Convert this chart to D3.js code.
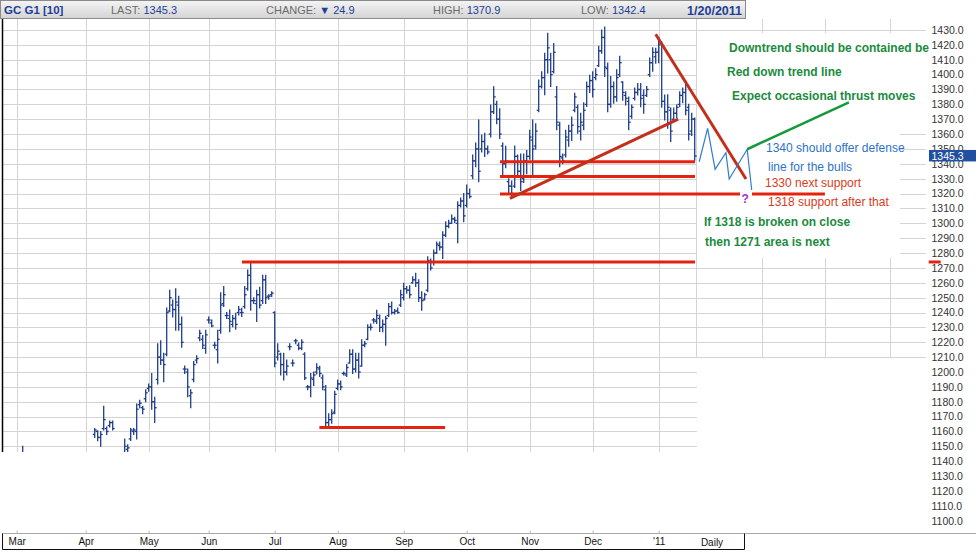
<!DOCTYPE html>
<html>
<head>
<meta charset="utf-8">
<script src="https://cdn.jsdelivr.net/npm/d3@7"></script>
<style>
body { margin: 0; background: #fff; }
svg { display: block; font-family: "Liberation Sans", Arial, sans-serif; }
</style>
</head>
<body>
<svg id="chart" width="976" height="552"></svg>
<script>
// daily bars, index 0 = Mar 1 2010 ... 226 = Jan 20 2011 (GC G1)
const opens = [1112,1118,1136,1140,1132,1134,1124,1122,1114,1120,1125,1124,1126,1118,1104,1098,1104,1106,1092,1102,1108,1112,1114,
	1116,1125,1132,1158,1160,1156,1162,1162,1164,1166,1144,1135,1138,1142,1148,1155,1160,1160,1178,1176,1182,
	1189,1190,1180,1195,1210,1208,1212,1241,1245,1242,1245,1232,1202,1200,1184,1195,1208,1223,1222,1216,
	1235,1233,1218,1215,1228,1246,1238,1236,1232,1236,1240,1240,1244,1256,1265,1248,1246,1252,1248,1262,1251,1252,
	1240,1210,1212,1205,1200,1217,1206,1221,1218,1216,1212,1190,1190,1195,1200,1202,1196,1188,1166,1168,1173,
	1189,1192,1199,1198,1206,1212,1202,1208,1204,1218,1222,1230,1235,1234,1236,1230,1232,1238,1244,1240,1241,1245,
	1250,1256,1255,1260,1262,1260,1250,1249,1255,1274,1274,1280,1285,1284,1292,1298,1300,1303,1300,1312,1315,
	1312,1320,1332,1342,1350,1350,1355,1350,1360,1375,1380,1370,1352,1340,1328,1325,1325,1345,1335,1330,1342,
	1345,1356,1352,1376,1392,1398,1410,1410,1402,1385,1366,1344,1346,1356,1362,1376,1378,1362,1366,1380,1392,
	1396,1398,1406,1416,1425,1404,1380,1392,1385,1400,1395,1386,1382,1372,1384,1388,1390,1386,1386,1400,1408,1412,
	1415,1421,1382,1375,1376,1370,1374,1380,1386,1388,1378,1362,1370];
const highs = [1120,1138,1150,1142,1138,1136,1128,1126,1124,1128,1132,1130,1128,1120,1110,1108,1112,1106,1104,1110,1116,1120,1122,
	1128,1136,1145,1162,1160.5,1160,1177,1163,1167,1167,1145,1142,1144,1155,1151,1162,1162,1178.5,1181,1177,1188,
	1192,1199,1183,1219,1221,1212.6,1243,1255,1248.5,1256,1251,1237,1204,1202,1188,1207,1211,1228,1224.6,1228,
	1237,1235,1220,1228,1253.3,1257.5,1240,1241.7,1238,1239.5,1244,1242.8,1257.5,1268.6,1273.1,1250,1255,1257,1265,1265,1252,1254,
	1240.6,1219,1212.6,1212.6,1208,1219,1208,1222,1219.5,1221.7,1213,1191,1199,1200,1205.6,1203.8,1198,1191,1172,1174.6,1187,
	1194.6,1194,1200,1205,1215,1215,1212.6,1212.6,1221.7,1220.5,1231.7,1232.3,1236,1241.6,1238.4,1235,1237.3,1246,1247,1242,1243,1255,
	1259.7,1257.5,1258,1264,1266.4,1262,1254,1253,1277.5,1276,1282,1287.5,1287.5,1294.4,1301,1302,1305.6,1304,1314.5,1317,1320,
	1325.8,1323,1346,1354,1369.5,1359.4,1360.5,1352,1379.6,1391.9,1382,1377,1354,1351.8,1330,1328.5,1352,1346,1346.6,1346.6,1349,
	1362.6,1369.5,1367,1396.4,1402,1414.3,1427.8,1414.3,1421,1392,1368,1346.6,1362.6,1366,1371.5,1387.5,1379.6,1374,1381,1395,1399.5,
	1402,1404,1419,1430,1432,1407.8,1398.8,1395,1403.3,1412.3,1395.2,1388.5,1385,1379.6,1391,1394,1394,1389.7,1392,1411.2,1418,1417.7,
	1425,1422,1386.3,1386.5,1377.6,1377.6,1379.6,1388.5,1391,1395.5,1380,1374,1370.9];
const lows = [1105,1115,1132,1128,1125,1120,1115,1110,1108,1116,1118,1115,1112,1100,1092,1090,1098,1085,1088,1096,1100,1105,1108,
	1112,1120,1128,1156,1153.8,1150,1161,1158,1163,1161,1130,1128,1132,1138,1142,1154,1158,1155,1176,1172,1180,
	1187,1175,1166,1192,1205,1193.5,1211,1240.6,1237,1228,1228,1216.6,1199,1183.4,1176,1193.5,1206,1221,1215.8,1212.6,
	1233,1230.5,1216,1206,1226,1244,1236,1227,1230.5,1228.7,1238.4,1237.3,1242.8,1255,1241.6,1246,1234,1243,1246,1246,1249,1250.8,
	1203.5,1208,1198,1194.6,1198,1215,1204,1219,1215,1215,1195,1188,1183.4,1191,1198.7,1197,1188,1163,1164,1165.6,1172,
	1188,1188,1198,1197,1206,1199,1200,1196,1203.8,1217,1221.7,1228.3,1233,1232.7,1227.2,1227,1218,1237.3,1239,1239,1239.5,1244,
	1248.5,1253,1250,1259.7,1257.5,1247.4,1241.6,1248.5,1254,1268.6,1272,1279.7,1282,1276.4,1291,1297,1300,1300.5,1287,1311,1301,
	1311,1317,1330,1338,1328,1348,1345,1346.6,1358,1373.9,1367,1357,1331.6,1337.3,1319.3,1317.3,1324,1331.6,1322,1327.5,1333.4,
	1343,1331.6,1350,1375,1391,1386.5,1401,1392,1401,1363,1338,1340,1344.6,1351.8,1355.7,1375,1360.5,1356,1363,1378.5,1388,
	1385,1396.6,1405.5,1414.3,1398.8,1375,1378,1380.7,1382,1398.8,1382.8,1379.6,1363,1370.6,1383,1386.3,1378.4,1374,1385.2,1398.8,1402.2,1407.6,
	1408,1378,1369.5,1364,1355,1369.5,1371,1378.4,1381,1373,1356,1359,1342.4];
const closes = [1118,1136,1140,1132,1134,1124,1122,1114,1120,1125,1124,1126,1118,1104,1098,1104,1106,1092,1102,1108,1112,1114,1116,
	1125,1132,1142,1161,1156,1158,1168,1160,1166,1162,1135,1138,1142,1150,1149,1161,1161,1175,1179,1175,1186,
	1190,1180,1176,1210,1208,1205,1240,1250,1242,1247,1232,1220,1202,1190,1186,1205,1209,1226,1218,1225,
	1235,1231,1218,1222,1245,1252,1238,1234,1236,1232,1242,1240,1252,1265,1248,1248,1252,1245,1262,1250,1251,1253,
	1206,1214,1205,1200,1204,1217,1206,1221,1216,1220,1196,1190,1196,1198,1203,1199,1190,1166,1168,1172,1185,
	1192,1190,1199,1203,1212,1202,1208,1200,1218,1219,1230,1230,1235,1238,1230,1232,1236,1244,1240,1241,1240,1252,
	1256,1255,1252,1262,1260,1250,1248,1252,1275,1270,1280,1286,1284,1292,1298,1300,1303,1302,1312,1315,1305,
	1320,1318,1342,1350,1335,1355,1350,1348,1375,1385,1370,1360,1340,1342,1325,1320,1345,1335,1328,1342,1345,
	1358,1350,1362,1392,1398,1410,1418,1400,1415,1368,1345,1342,1358,1362,1366,1385,1365,1368,1376,1392,1396,
	1390,1400,1416,1425,1405,1380,1392,1385,1398,1408,1388,1384,1368,1378,1388,1390,1384,1380,1390,1408,1415,1415,
	1420,1382,1375,1378,1362,1374,1378,1386,1388,1376,1360,1370.2,1345.3];

const monthLabels = ["Mar", "Apr", "May", "Jun", "Jul", "Aug", "Sep", "Oct", "Nov", "Dec", "'11"];
const monthStarts = [0, 23, 44, 64, 86, 107, 129, 150, 171, 192, 214];
const priceTicks = d3.range(1100, 1431, 10);
const gridLevels = d3.range(1150, 1431, 10);

// drawn studies: [index, price] pairs
const supportLevels = [1341.4, 1331.4];
const supportSpan = [161.1, 226.1];
const support1318 = [[161.1, 1319.7], [241.1, 1319.7]];
const support1318b = [[245.1, 1319.7], [269.4, 1319.7]];
const resistance1274 = [[75.1, 1274], [226.1, 1274]];
const support1162 = [[100.9, 1162.6], [142.8, 1162.6]];
const axisMark1274 = [[304, 1274], [308, 1274]];
const risingLine = [[164.4, 1316.8], [220.5, 1370.1]];
const downLine = [[213, 1427.1], [243.1, 1329.8]];
const zigzag = [[227.5, 1341.4], [230.3, 1363.9], [232.8, 1336.3], [236.4, 1347.5], [237.5, 1329.8], [243.5, 1349.8], [245, 1322.4]];
const thrustLine = [[243.5, 1349.8], [277.4, 1381.4]];
const questionMark = [242.8, 1316.8];
const lastPrice = 1345.3;

const svg = d3.select("#chart");
const x = d3.scaleLinear().domain([0, 226]).range([16.7, 694.7]);
const y = d3.scaleLinear().domain([1100, 1430]).range([520.7, 30]);
const line = d3.line().x(d => x(d[0])).y(d => y(d[1]));

const defs = svg.append("defs");
const grad = defs.append("linearGradient").attr("id", "hdr")
	.attr("x1", 0).attr("y1", 0).attr("x2", 0).attr("y2", 1);
grad.append("stop").attr("offset", "0%").attr("stop-color", "#f4f4f4");
grad.append("stop").attr("offset", "100%").attr("stop-color", "#d4d4d4");
defs.append("clipPath").attr("id", "plotClip").append("rect")
	.attr("x", 2).attr("y", 19).attr("width", 695).attr("height", 433);

//grid
const grid = svg.append("g").attr("stroke", "#d4d4d4").attr("stroke-width", 1).attr("shape-rendering", "crispEdges");
grid.selectAll(".h").data(gridLevels).enter().append("line")
	.attr("x1", 2).attr("x2", 926)
	.attr("y1", d => Math.round(y(d)) + 0.5).attr("y2", d => Math.round(y(d)) + 0.5);
grid.selectAll(".v").data(monthStarts).enter().append("line")
	.attr("x1", d => Math.round(x(d)) + 0.5).attr("x2", d => Math.round(x(d)) + 0.5)
	.attr("y1", 19).attr("y2", 452);
grid.selectAll(".vr").data([696, 762, 825, 890]).enter().append("line")
	.attr("x1", d => d + 0.5).attr("x2", d => d + 0.5)
	.attr("y1", 19).attr("y2", 358);

//white patches over the grid
const patches = [[697, 33, 229, 93], [697, 126, 203, 132], [697, 358, 229, 176], [0, 453, 697, 81]];
svg.append("g").selectAll("rect").data(patches).enter().append("rect")
	.attr("x", d => d[0]).attr("y", d => d[1]).attr("width", d => d[2]).attr("height", d => d[3])
	.attr("fill", "#fff");

svg.append("line").attr("x1", 2.5).attr("x2", 2.5).attr("y1", 19).attr("y2", 452)
	.attr("stroke", "#000").attr("stroke-width", 1.5);

//bars
const bars = svg.append("g").attr("clip-path", "url(#plotClip)")
	.attr("stroke", "#1f3d8c").attr("stroke-width", 1.3);
const idx = d3.range(highs.length);
bars.selectAll(".hl").data(idx).enter().append("line")
	.attr("x1", i => x(i)).attr("x2", i => x(i))
	.attr("y1", i => y(highs[i]) - 0.5).attr("y2", i => y(lows[i]) + 0.5);
bars.selectAll(".op").data(idx).enter().append("line")
	.attr("x1", i => x(i) - 2).attr("x2", i => x(i))
	.attr("y1", i => y(opens[i])).attr("y2", i => y(opens[i]));
bars.selectAll(".cl").data(idx).enter().append("line")
	.attr("x1", i => x(i)).attr("x2", i => x(i) + 2)
	.attr("y1", i => y(closes[i])).attr("y2", i => y(closes[i]));

//studies
const red = "#e4220e", darkRed = "#c2301c";
const hLines = supportLevels.map(p => supportSpan.map(i => [i, p]))
	.concat([support1318, support1318b, resistance1274, support1162, axisMark1274]);
svg.append("g").selectAll("path").data(hLines).enter().append("path")
	.attr("d", line).attr("fill", "none").attr("stroke", red).attr("stroke-width", 3);
svg.append("g").selectAll("path").data([risingLine, downLine]).enter().append("path")
	.attr("d", line).attr("fill", "none").attr("stroke", darkRed).attr("stroke-width", 3);
svg.append("path").datum(zigzag).attr("d", line)
	.attr("fill", "none").attr("stroke", "#2f7cd2").attr("stroke-width", 1.2);
svg.append("path").datum(thrustLine).attr("d", line)
	.attr("fill", "none").attr("stroke", "#16993b").attr("stroke-width", 2.5);
svg.append("text").attr("x", x(questionMark[0])).attr("y", y(questionMark[1]) + 5)
	.attr("text-anchor", "middle").attr("font-size", 12).attr("font-weight", "bold")
	.attr("fill", "#9b30d6").text("?");

//notes
const notes = [
	["Downtrend should be contained be", 729, 52, "#1b8b3d", "bold"],
	["Red down trend line", 727, 76, "#1b8b3d", "bold"],
	["Expect occasional thrust moves", 732, 99.5, "#1b8b3d", "bold"],
	["1340 should offer defense", 766, 152, "#2e72c8", "normal"],
	["line for the bulls", 768, 171, "#2e72c8", "normal"],
	["1330 next support", 765, 187, "#d83b1c", "normal"],
	["1318 support after that", 768, 205.5, "#d83b1c", "normal"],
	["If 1318 is broken on close", 704, 225.5, "#1b8b3d", "bold"],
	["then 1271 area is next", 705, 245.5, "#1b8b3d", "bold"]
];
svg.append("g").selectAll("text").data(notes).enter().append("text")
	.attr("x", d => d[1]).attr("y", d => d[2]).attr("fill", d => d[3])
	.attr("font-weight", d => d[4]).attr("font-size", 12).text(d => d[0]);

//price axis
const yAxis = svg.append("g").attr("transform", "translate(931.5,0)")
	.call(d3.axisRight(y).tickValues(priceTicks).tickSize(0).tickPadding(0).tickFormat(d3.format(".1f")));
yAxis.select(".domain").remove();
yAxis.selectAll("text").attr("font-size", 10.5).attr("fill", "#333").attr("font-family", "Liberation Sans, Arial, sans-serif");

svg.append("rect").attr("x", 929).attr("y", y(lastPrice) - 6).attr("width", 47).attr("height", 11.5).attr("fill", "#21509f");
svg.append("text").attr("x", 931.5).attr("y", y(lastPrice) + 4).attr("font-size", 10.5).attr("fill", "#fff").text(d3.format(".1f")(lastPrice));

//time axis
svg.append("line").attr("x1", 2).attr("x2", 976).attr("y1", 533.5).attr("y2", 533.5).attr("stroke", "#a8a8a8");
svg.append("path").attr("d", "M2.5,533.5V549.5H744.5V533.5").attr("fill", "none").attr("stroke", "#111").attr("stroke-width", 1);
const xAxis = svg.append("g").attr("transform", "translate(0,533.5)")
	.call(d3.axisBottom(x).tickValues(monthStarts).tickSize(-3).tickPadding(4.5).tickFormat((d, i) => monthLabels[i]));
xAxis.select(".domain").remove();
xAxis.selectAll("line").attr("stroke", "#bbb");
xAxis.selectAll("text").attr("font-size", 10).attr("fill", "#111").attr("font-family", "Liberation Sans, Arial, sans-serif");
svg.append("text").attr("x", 712).attr("y", 545.5).attr("text-anchor", "middle").attr("font-size", 10).attr("fill", "#111").text("Daily");

//header
svg.append("rect").attr("x", 0.5).attr("y", 0.5).attr("width", 745).attr("height", 18)
	.attr("fill", "url(#hdr)").attr("stroke", "#8a8a8a");
const hdr = svg.append("g").attr("font-size", 11);
hdr.append("text").attr("x", 4).attr("y", 14).attr("font-weight", "bold").attr("font-size", 11.5).attr("fill", "#1d3f96").text("GC G1 [10]");
const fields = [["LAST: ", "1345.3", 111], ["CHANGE: ", "\u25BC 24.9", 266], ["HIGH: ", "1370.9", 433], ["LOW: ", "1342.4", 581]];
fields.forEach(f => {
	const t = hdr.append("text").attr("x", f[2]).attr("y", 13.5);
	t.append("tspan").attr("fill", "#6b6b6b").text(f[0]);
	t.append("tspan").attr("fill", "#1d3f96").text(f[1]);
});
hdr.append("text").attr("x", 742).attr("y", 14.5).attr("text-anchor", "end").attr("font-weight", "bold").attr("font-size", 12.5).attr("fill", "#1d3f96").text("1/20/2011");
</script>
</body>
</html>
